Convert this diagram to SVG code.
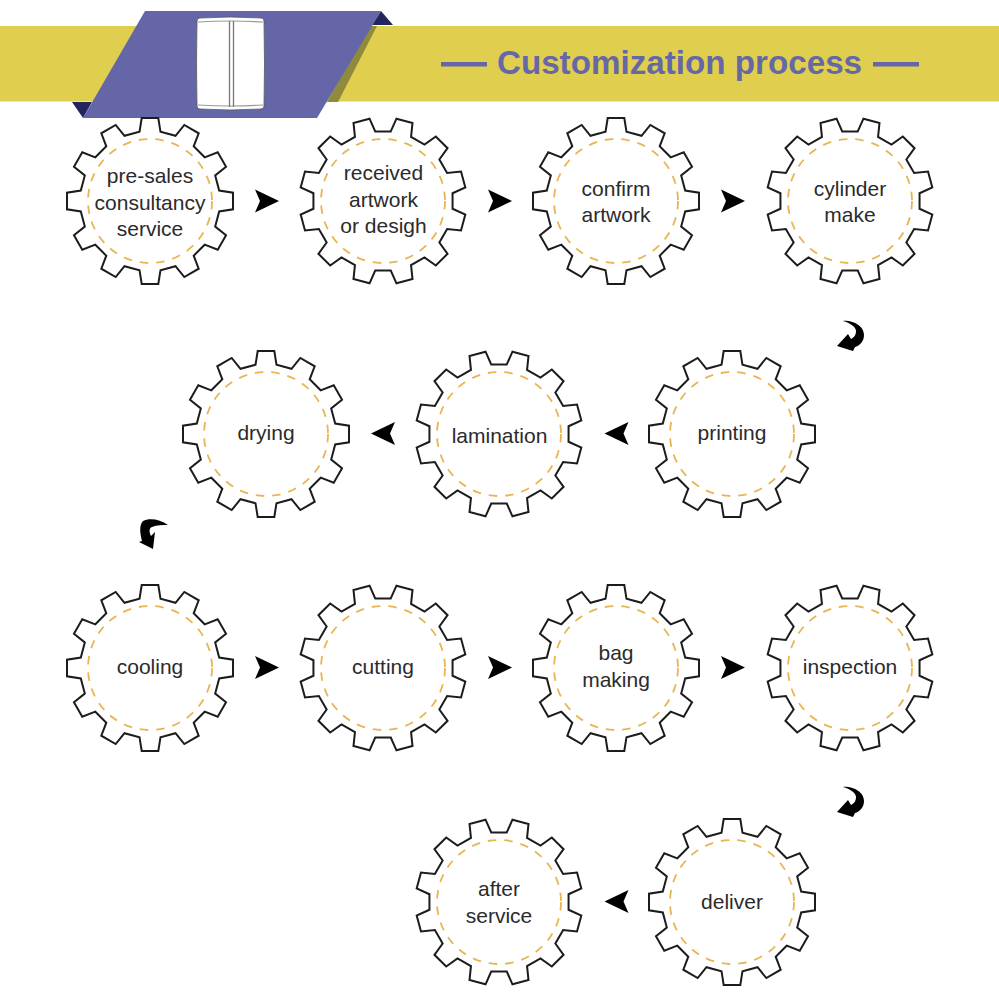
<svg xmlns="http://www.w3.org/2000/svg" width="999" height="1007" viewBox="0 0 999 1007">
<style>
.g{fill:#fff;stroke:#1c1c1c;stroke-width:2;stroke-linejoin:miter}
.d{fill:none;stroke:#e9b552;stroke-width:1.8;stroke-dasharray:8.500 8}
.t{font-family:"Liberation Sans",Arial,sans-serif;font-size:21px;fill:#2b2b2b;text-anchor:middle}
.a{fill:#000}
.b{fill:#6466a8}
</style>
<defs>
<path id="gear" class="g" d="M-10.5,-69.2L-8.3,-83L8.3,-83L10.5,-69.2L25.51,-65.18L34.31,-76.03L48.69,-67.73L43.69,-54.68L54.68,-43.69L67.73,-48.69L76.03,-34.31L65.18,-25.51L69.2,-10.5L83,-8.3L83,8.3L69.2,10.5L65.18,25.51L76.03,34.31L67.73,48.69L54.68,43.69L43.69,54.68L48.69,67.73L34.31,76.03L25.51,65.18L10.5,69.2L8.3,83L-8.3,83L-10.5,69.2L-25.51,65.18L-34.31,76.03L-48.69,67.73L-43.69,54.68L-54.68,43.69L-67.73,48.69L-76.03,34.31L-65.18,25.51L-69.2,10.5L-83,8.3L-83,-8.3L-69.2,-10.5L-65.18,-25.51L-76.03,-34.31L-67.73,-48.69L-54.68,-43.69L-43.69,-54.68L-48.69,-67.73L-34.31,-76.03L-25.51,-65.18Z"/>
<circle id="ring" class="d" r="62"/>
<polygon id="arr" class="a" points="-12,-11.500 12,0 -12,11.500 -7,0"/>
<path id="cw" class="a" d="M843,321C851,320 864,325 864,335C864,342 859,346 855,347L853,351L837,346L848,334L851,339C855,337 856,334 856,331C856,327 850,323 843,321Z"/>
</defs>
<g id="banner">
<rect x="0" y="26" width="999" height="75.500" fill="#e0ce4f"/>
<polygon points="72,102 92,102 83,118" fill="#23255c"/>
<polygon points="381,11 393,25 372,25" fill="#23255c"/>
<polygon points="370,26 377,26 338,102 327,102" fill="#8f8a3c"/>
<polygon class="b" points="145,11 381,11 317,118 83,118"/>
<g id="bag">
<path d="M200,18Q230,16 261,18Q264,18 264,21Q265,64 264,106Q264,109 261,109Q230,111 200,109Q197,109 197,106Q196,64 197,21Q197,18 200,18Z" fill="#fff" stroke="#555" stroke-width="0.8"/>
<path d="M198,22Q230,20 263,22M198,105Q230,107 263,105" fill="none" stroke="#999" stroke-width="1.200"/>
<path d="M229.500,21V107M233.500,21V107" fill="none" stroke="#777" stroke-width="1.300"/>
</g>
<rect x="441" y="62" width="46" height="4.500" class="b"/>
<rect x="873" y="62" width="46" height="4.500" class="b"/>
<text x="679.500" y="74" font-family="'Liberation Sans',Arial,sans-serif" font-size="33.200" font-weight="700" fill="#6668a6" text-anchor="middle">Customization process</text>
</g>
<g id="connectors">
<use href="#arr" x="267" y="201"/>
<use href="#arr" x="500" y="201"/>
<use href="#arr" x="733" y="201"/>
<use href="#cw"/>
<use href="#arr" transform="translate(616.500,433.500) rotate(180)"/>
<use href="#arr" transform="translate(383,433.500) rotate(180)"/>
<path class="a" d="M168,525C160,519 149,518 143,521C139,525 140,533 142,541L139,542L153,549L155,532L151,536C149,532 149,528 152,527C157,525 163,525 168,525Z"/>
<use href="#arr" x="267" y="667.500"/>
<use href="#arr" x="500" y="667.500"/>
<use href="#arr" x="733" y="667.500"/>
<use href="#cw" y="466"/>
<use href="#arr" transform="translate(616.500,901.500) rotate(180)"/>
</g>
<g id="n1"><use href="#gear" x="150" y="201"/><use href="#ring" x="150" y="201"/><text class="t"><tspan x="150" y="183">pre-sales</tspan><tspan x="150" y="210">consultancy</tspan><tspan x="150" y="236">service</tspan></text></g>
<g id="n2"><use href="#gear" transform="translate(383,201) rotate(15)"/><use href="#ring" x="383" y="201"/><text class="t"><tspan x="383.500" y="180">received</tspan><tspan x="383.500" y="207">artwork</tspan><tspan x="383.500" y="233">or desigh</tspan></text></g>
<g id="n3"><use href="#gear" x="616" y="201"/><use href="#ring" x="616" y="201"/><text class="t"><tspan x="616" y="196">confirm</tspan><tspan x="616" y="222">artwork</tspan></text></g>
<g id="n4"><use href="#gear" transform="translate(850,201) rotate(15)"/><use href="#ring" x="850" y="201"/><text class="t"><tspan x="850" y="196">cylinder</tspan><tspan x="850" y="222">make</tspan></text></g>
<g id="n5"><use href="#gear" x="732" y="434"/><use href="#ring" x="732" y="434"/><text class="t" x="732" y="440">printing</text></g>
<g id="n6"><use href="#gear" transform="translate(499,434) rotate(15)"/><use href="#ring" x="499" y="434"/><text class="t" x="499.500" y="443">lamination</text></g>
<g id="n7"><use href="#gear" x="266" y="434"/><use href="#ring" x="266" y="434"/><text class="t" x="266" y="440">drying</text></g>
<g id="n8"><use href="#gear" x="150" y="668"/><use href="#ring" x="150" y="668"/><text class="t" x="150" y="674">cooling</text></g>
<g id="n9"><use href="#gear" transform="translate(383,668) rotate(15)"/><use href="#ring" x="383" y="668"/><text class="t" x="383" y="674">cutting</text></g>
<g id="n10"><use href="#gear" x="616" y="668"/><use href="#ring" x="616" y="668"/><text class="t"><tspan x="616" y="660">bag</tspan><tspan x="616" y="687">making</tspan></text></g>
<g id="n11"><use href="#gear" transform="translate(850,668) rotate(15)"/><use href="#ring" x="850" y="668"/><text class="t" x="850" y="674">inspection</text></g>
<g id="n12"><use href="#gear" x="732" y="902"/><use href="#ring" x="732" y="902"/><text class="t" x="732" y="909">deliver</text></g>
<g id="n13"><use href="#gear" transform="translate(499,902) rotate(15)"/><use href="#ring" x="499" y="902"/><text class="t"><tspan x="499" y="896">after</tspan><tspan x="499" y="923">service</tspan></text></g>
</svg>
